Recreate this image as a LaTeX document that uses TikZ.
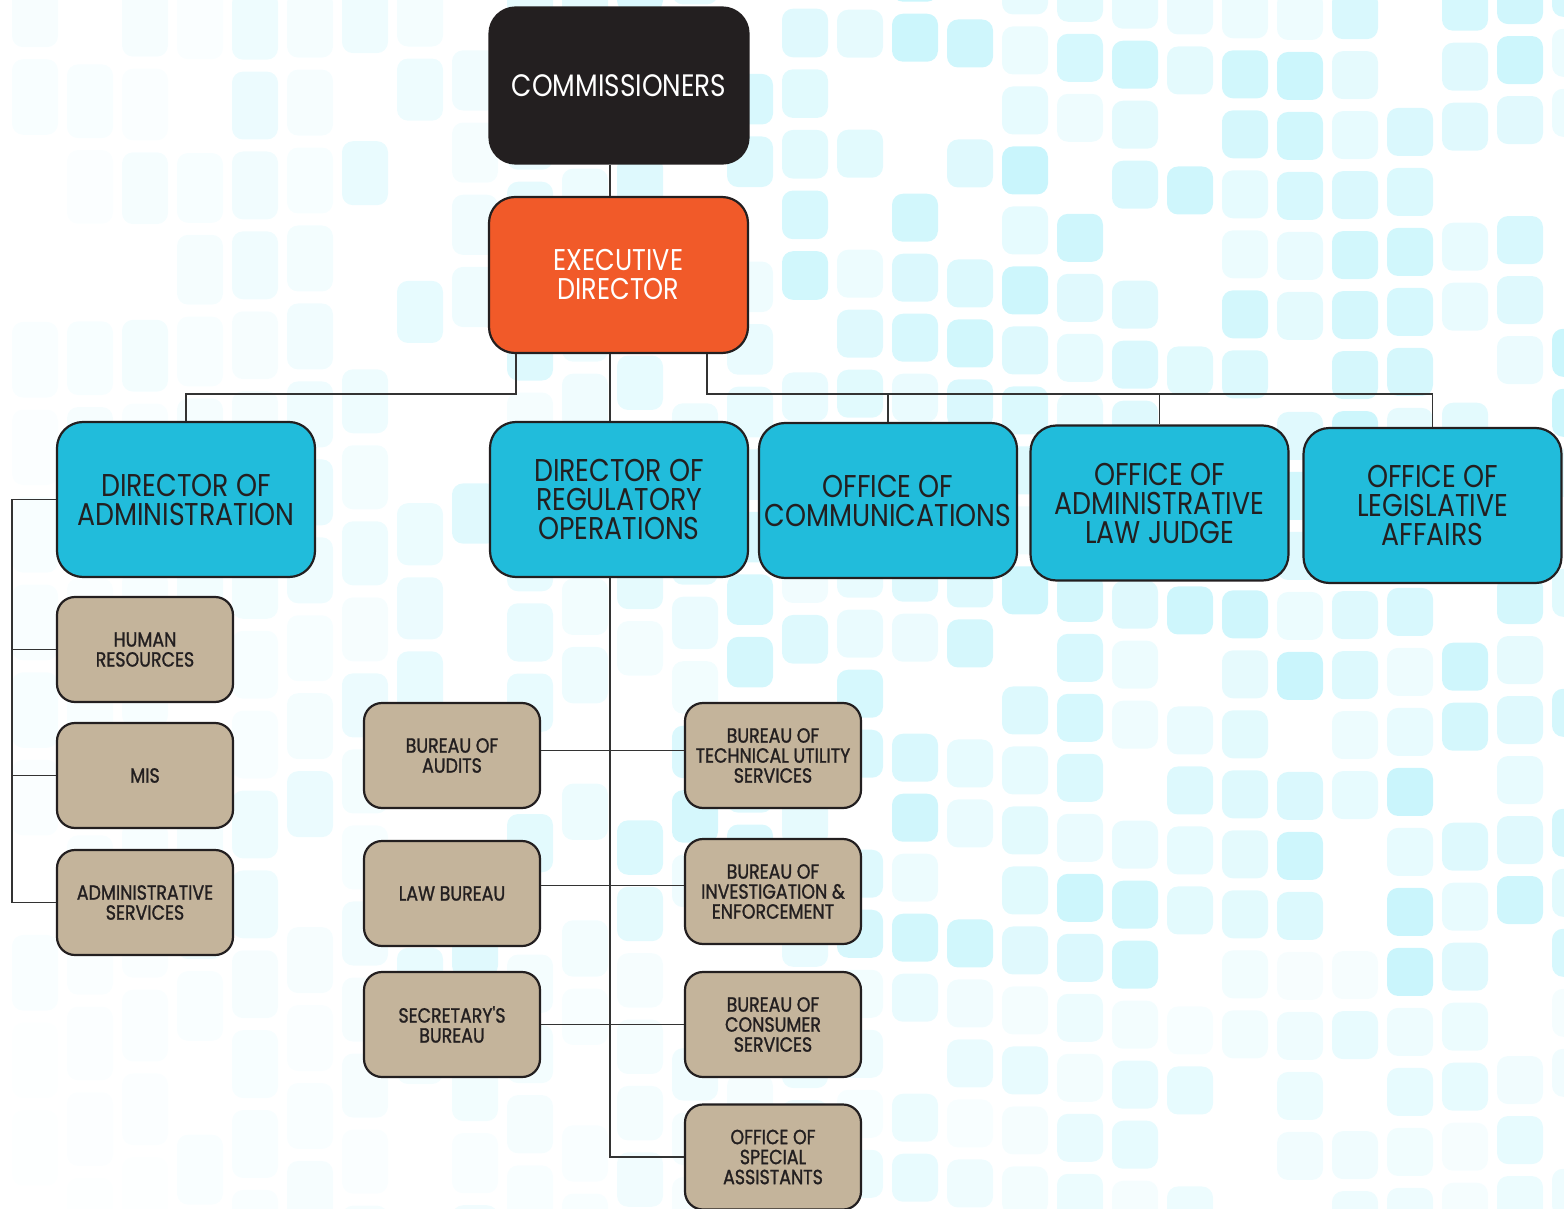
\documentclass[tikz,border=0pt]{standalone}
\usepackage{fontspec}
\setmainfont[FakeStretch=0.85]{Poppins}
\newfontfamily\unitfont[FakeStretch=0.85,FakeBold=1.2]{Poppins}
\usetikzlibrary{positioning,calc}
\definecolor{boxblack}{HTML}{231F20}
\definecolor{execorange}{HTML}{F15A29}
\definecolor{dircyan}{HTML}{21BCDB}
\definecolor{bureautan}{HTML}{C4B49B}
\definecolor{linegray}{HTML}{333333}
\definecolor{tilecyan}{HTML}{BDF3FB}

\begin{document}
\begin{tikzpicture}[x=1pt,y=-1pt,
        box/.style={draw=boxblack, line width=2.2pt, rounded corners=26pt, align=center, inner sep=0pt, text=boxblack},
        topbox/.style={box, text=white, minimum width=259pt, minimum height=156pt, font=\fontsize{30}{29}\selectfont},
        dirbox/.style={box, fill=dircyan, minimum width=258pt, minimum height=155pt, font=\fontsize{31.5}{29}\selectfont},
        subbox/.style={box, fill=bureautan, rounded corners=18pt, minimum width=176pt, minimum height=105pt, font=\unitfont\fontsize{20.5}{20}\selectfont},
        link/.style={draw=linegray, line width=1.4pt},
        tile/.style={fill=tilecyan, rounded corners=11pt}]
        \useasboundingbox (0,0) rectangle (1564,1209);
        % Draw background tiles
        \begin{scope}
            \clip (0,0) rectangle (1564,1209);
            \pgfmathsetseed{11}
            \foreach \i in {0,...,28}{
                \foreach \j in {0,...,21}{
                    \pgfmathsetmacro\tx{12+55*\i}
                    \pgfmathsetmacro\th{76-28*min(1,\tx/800)}
                    \pgfmathsetmacro\ty{-30+(\th+12)*\j+22*sin(\tx*0.35)}
                    \pgfmathsetmacro\fade{(0.12+0.7*min(1,\tx/900))*(\ty>950 ? 0.45 : 1)}
                    \pgfmathsetmacro\op{rnd>0.2 ? (0.3+0.7*rnd)*\fade : 0}
                    \fill[tile, opacity=\op] (\tx,\ty) rectangle ++(46,\th);
                }
            }
        \end{scope}
        % Draw top boxes
        \node[topbox, fill=boxblack, font=\fontsize{31}{31}\selectfont] (comm) at (619,85.5) {COMMISSIONERS};
        \node[topbox, fill=execorange] (exec) at (618.5,275) {EXECUTIVE\\DIRECTOR};
        % Draw directors and offices
        \node[dirbox] (dadm) at (186,499.5) {DIRECTOR OF\\ADMINISTRATION};
        \node[dirbox] (dreg) at (619,499.5) {DIRECTOR OF\\REGULATORY\\OPERATIONS};
        \node[dirbox] (ocom) at (888,500.5) {OFFICE OF\\COMMUNICATIONS};
        \node[dirbox] (oalj) at (1159.5,503) {OFFICE OF\\ADMINISTRATIVE\\LAW JUDGE};
        \node[dirbox] (oleg) at (1432.5,505.5) {OFFICE OF\\LEGISLATIVE\\AFFAIRS};
        % Draw administration units
        \node[subbox] (hr) at (145,649.5) {HUMAN\\RESOURCES};
        \node[subbox] (mis) at (145,775.5) {MIS};
        \node[subbox] (adms) at (145,902.5) {ADMINISTRATIVE\\SERVICES};
        % Draw bureaus
        \node[subbox] (baud) at (452,755.5) {BUREAU OF\\AUDITS};
        \node[subbox] (law) at (452,893.5) {LAW BUREAU};
        \node[subbox] (secb) at (452,1024.5) {SECRETARY'S\\BUREAU};
        \node[subbox] (btus) at (773,755.5) {BUREAU OF\\TECHNICAL UTILITY\\SERVICES};
        \node[subbox] (bie) at (773,891.5) {BUREAU OF\\INVESTIGATION \&\\ENFORCEMENT};
        \node[subbox] (bcs) at (773,1024.5) {BUREAU OF\\CONSUMER\\SERVICES};
        \node[subbox] (osa) at (773,1157) {OFFICE OF\\SPECIAL\\ASSISTANTS};
        % Draw connectors
        \coordinate (trunk) at (610,0);
        \coordinate (lbar) at (516,394);
        \coordinate (rbar) at (707,394);
        \coordinate (spine) at (12,0);
        \draw[link] (comm.south -| trunk) -- (exec.north -| trunk);
        \draw[link] (exec.south -| trunk) -- (dreg.north -| trunk);
        \draw[link] (exec.south -| lbar) -- (lbar) -| (dadm.north);
        \draw[link] (exec.south -| rbar) -- (rbar) -| (oleg.north);
        \draw[link] (rbar -| ocom.north) -- (ocom.north);
        \draw[link] (rbar -| oalj.north) -- (oalj.north);
        \draw[link] (dadm.west) -| (spine |- adms.west) -- (adms.west);
        \draw[link] (spine |- hr.west) -- (hr.west);
        \draw[link] (spine |- mis.west) -- (mis.west);
        \draw[link] (dreg.south -| trunk) |- (osa.west);
        \draw[link] ([yshift=5pt]baud.east) -- ([yshift=5pt]baud.east -| btus.west);
        \draw[link] ([yshift=8pt]law.east) -- ([yshift=8pt]law.east -| bie.west);
        \draw[link] (secb.east) -- (secb.east -| bcs.west);
    \end{tikzpicture}
\end{document}
